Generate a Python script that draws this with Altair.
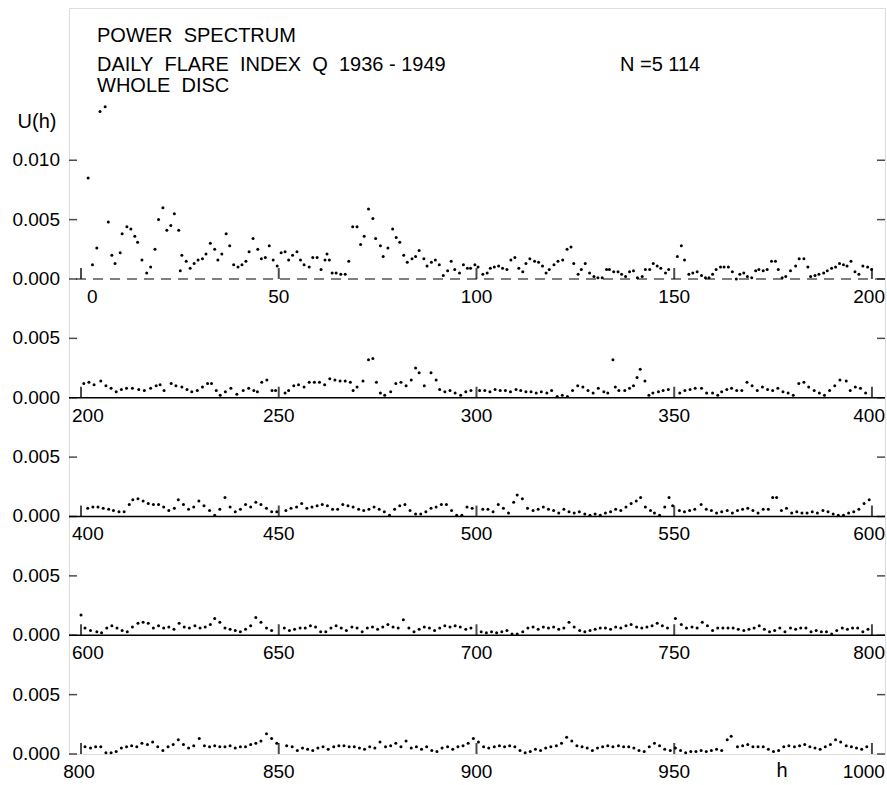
import altair as alt
import pandas as pd

# ---------------- data ----------------
row1_h = [1.8, 2.9, 4.0, 4.8, 6.1, 6.9, 7.8, 8.6, 9.9, 10.4,
          11.6, 12.6, 13.6, 14.3, 15.4, 16.6, 17.6, 18.7, 19.6, 20.7,
          21.7, 22.7, 23.6, 24.7, 25.1, 25.5, 26.6, 27.6, 28.6, 29.6,
          30.7, 31.6, 32.7, 33.8, 34.6, 35.6, 36.7, 37.6, 38.6, 39.7,
          40.7, 41.7, 42.5, 43.5, 44.7, 45.6, 46.6, 47.6, 48.6, 49.6,
          50.6, 51.6, 52.5, 53.5, 54.6, 55.5, 56.4, 57.7, 58.6, 59.7,
          60.7, 61.7, 62.2, 62.8, 63.5, 64.5, 65.7, 66.8, 67.7, 68.7,
          69.8, 70.7, 71.6, 72.7, 73.8, 74.5, 75.7, 76.4, 77.6, 78.8,
          79.7, 80.6, 81.6, 82.5, 83.7, 84.6, 85.5, 86.7, 87.5, 88.6,
          89.6, 90.6, 91.6, 92.7, 93.6, 94.5, 95.7, 96.7, 97.7, 98.5,
          99.6, 100.4, 101.6, 102.7, 103.5, 104.5, 105.6, 106.6, 107.7, 108.7,
          109.7, 110.7, 111.7, 112.5, 113.5, 114.7, 115.7, 116.7, 117.6, 118.4,
          119.6, 120.6, 121.8, 122.9, 123.9, 124.6, 125.7, 126.5, 127.5, 128.6,
          129.7, 130.7, 131.8, 132.9, 133.6, 134.7, 135.8, 136.7, 137.7, 138.7,
          139.7, 140.7, 141.9, 142.7, 143.8, 144.7, 145.7, 146.6, 147.8, 148.6,
          150.8, 151.8, 152.6, 153.7, 154.7, 155.8, 156.9, 157.9, 158.8, 159.7,
          160.6, 161.7, 162.6, 163.7, 164.7, 165.7, 166.6, 167.6, 168.5, 169.6,
          170.6, 171.4, 172.5, 173.5, 174.6, 175.6, 176.3, 177.3, 178.2, 179.4,
          180.7, 181.6, 182.8, 183.8, 184.5, 185.6, 186.6, 187.8, 188.7, 189.8,
          190.8, 191.8, 192.8, 193.7, 194.7, 195.7, 196.7, 197.7, 198.9, 199.9]
row1_u = [.0085, .0012, .0026, .0141, .0145, .0048, .0020, .0013, .0022, .0038,
          .0044, .0042, .0036, .0031, .0016, .0005, .0010, .0025, .0050, .0060,
          .0041, .0045, .0055, .0041, .0007, .0020, .0015, .0009, .0013, .0016,
          .0017, .0021, .0030, .0025, .0016, .0021, .0038, .0028, .0012, .0010,
          .0012, .0015, .0023, .0034, .0025, .0017, .0018, .0028, .0016, .0011,
          .0022, .0023, .0016, .0020, .0023, .0016, .0012, .0010, .0018, .0018,
          .0008, .0016, .0021, .0016, .0005, .0005, .0004, .0004, .0015, .0044,
          .0044, .0029, .0036, .0059, .0051, .0034, .0028, .0019, .0026, .0042,
          .0035, .0031, .0020, .0014, .0017, .0019, .0024, .0017, .0011, .0014,
          .0016, .0012, .0003, .0007, .0015, .0008, .0005, .0012, .0009, .0009,
          .0012, .0010, .0004, .0005, .0009, .0010, .0011, .0009, .0008, .0016,
          .0018, .0009, .0006, .0013, .0017, .0015, .0014, .0011, .0005, .0008,
          .0012, .0015, .0016, .0025, .0027, .0013, .0004, .0008, .0013, .0005,
          .0002, .0001, .0001, .0008, .0008, .0006, .0006, .0004, .0002, .0006,
          .0007, .0001, .0002, .0008, .0008, .0013, .0011, .0009, .0005, .0008,
          .0019, .0028, .0016, .0004, .0005, .0006, .0003, .0001, .0001, .0004,
          .0008, .0010, .0010, .0010, .0006, .0000, .0004, .0005, .0002, .0001,
          .0007, .0008, .0007, .0008, .0015, .0015, .0008, .0001, .0002, .0007,
          .0011, .0017, .0017, .0010, .0002, .0003, .0004, .0005, .0007, .0009,
          .0010, .0013, .0012, .0011, .0015, .0006, .0004, .0011, .0010, .0008]

row2_h = [200.7, 202, 203.3, 205, 206.3, 207.6, 208.9, 210.2, 211.5, 213,
          214.6, 216, 217.6, 219, 220, 221, 222.8, 224, 225.5, 226.8,
          228, 229.4, 230.7, 232, 233, 234.2, 235.2, 236.5, 237.9, 239.4,
          241, 242.4, 243.7, 244.6, 245.7, 247, 248.3, 249.2, 251.6, 252.5,
          253.8, 255, 256.4, 257.7, 259, 260.3, 261.6, 262.9, 264.2, 265.5,
          266.8, 268.1, 268.8, 269.8, 271.3, 272.7, 273.8, 274.7, 275.7, 276.8,
          278.3, 279.6, 280.9, 282.2, 283.5, 284.6, 285.5, 286.8, 288.5, 289.8,
          290.7, 292, 293.3, 294.6, 296, 297.3, 298.6, 300.8, 302.1, 303.4,
          304.7, 306, 307.3, 308.6, 310, 311.2, 312.5, 313.8, 315.1, 316.4,
          317.8, 319, 320.4, 321.7, 323, 324.3, 325.6, 326.9, 328.2, 329.5,
          330.8, 332.2, 333.2, 334.5, 335.1, 336, 337.5, 338.7, 339.7, 340.6,
          341.4, 342.6, 343.6, 344.6, 346, 347.2, 348.5, 351.4, 352.7, 354,
          355.3, 356.9, 358.2, 359.7, 361, 362, 363.3, 364.5, 365.8, 367.1,
          368.4, 369.7, 371, 372.3, 373.6, 374.9, 376.2, 377.5, 378.8, 380.1,
          381.5, 382.8, 384, 385.4, 386.7, 388, 389.3, 390.6, 391.9, 393.5,
          394.5, 395.8, 397.1, 398.4]
row2_u = [.0012, .0013, .0011, .0014, .0010, .0008, .0005, .0007, .0008, .0008,
          .0007, .0006, .0008, .0010, .0011, .0006, .0012, .0010, .0009, .0007,
          .0005, .0006, .0009, .0012, .0012, .0006, .0002, .0005, .0008, .0003,
          .0006, .0008, .0006, .0005, .0013, .0015, .0006, .0006, .0004, .0006,
          .0010, .0011, .0009, .0013, .0013, .0013, .0011, .0016, .0015, .0014,
          .0014, .0013, .0006, .0009, .0014, .0032, .0033, .0013, .0004, .0002,
          .0005, .0012, .0013, .0010, .0015, .0025, .0021, .0010, .0021, .0015,
          .0007, .0005, .0006, .0004, .0002, .0005, .0006, .0006, .0006, .0005,
          .0007, .0006, .0006, .0005, .0007, .0006, .0005, .0005, .0004, .0005,
          .0004, .0006, .0001, .0002, .0001, .0006, .0010, .0009, .0006, .0004,
          .0008, .0005, .0004, .0032, .0009, .0006, .0006, .0008, .0010, .0017,
          .0024, .0014, .0002, .0004, .0005, .0006, .0007, .0004, .0006, .0007,
          .0008, .0008, .0004, .0004, .0002, .0005, .0007, .0008, .0006, .0006,
          .0013, .0010, .0006, .0009, .0007, .0006, .0008, .0005, .0004, .0002,
          .0012, .0013, .0009, .0006, .0004, .0002, .0006, .0010, .0015, .0014,
          .0006, .0009, .0008, .0004]

row3_h = [401.7, 403, 404.3, 405.6, 407, 408.2, 409.6, 410.9, 412.2, 413.1,
          414.4, 415.7, 417, 418.3, 419.6, 420.9, 422.2, 423.6, 424.6, 425.9,
          427.2, 428.5, 429.8, 431.1, 432.5, 433.8, 435.1, 436.4, 437.7, 439,
          440.3, 441.6, 442.9, 444.2, 445.5, 446.9, 448.2, 449.5, 451.8, 453.1,
          454.5, 455.8, 457.1, 458.4, 459.7, 461, 462.3, 463.6, 464.9, 466.2,
          467.5, 468.8, 470.2, 471.5, 472.8, 474.1, 475.4, 476.7, 478, 479.3,
          480.6, 481.9, 483.2, 484.6, 485.9, 487.2, 488.5, 489.8, 491.1, 492.4,
          493.7, 495, 496.3, 497.6, 498.9, 501.6, 502.9, 504.2, 505.5, 506.8,
          508.1, 509.4, 510.3, 511.6, 512.9, 514.3, 515.6, 516.9, 518.2, 519.5,
          520.8, 522.1, 523.4, 524.7, 526, 527.4, 528.7, 530, 531.3, 532.6,
          533.9, 535.2, 536.5, 537.8, 539.1, 540.4, 541.5, 542.7, 544, 545,
          546.3, 547.6, 548.7, 549.6, 551.3, 552.6, 553.9, 555.2, 556.8, 558.1,
          559.4, 560.7, 562, 563.4, 564.7, 566, 567.3, 568.6, 569.9, 571.2,
          572.5, 573.8, 574.9, 575.9, 577.1, 578.4, 579.7, 581, 582.3, 583.6,
          584.9, 586.2, 587.6, 588.9, 590.2, 591.5, 592.8, 594.1, 595.4, 596.7,
          598, 599.3]
row3_u = [.0007, .0008, .0008, .0007, .0006, .0005, .0004, .0004, .0010, .0014,
          .0015, .0013, .0011, .0010, .0010, .0008, .0005, .0007, .0014, .0010,
          .0006, .0008, .0013, .0009, .0005, .0001, .0006, .0016, .0008, .0004,
          .0006, .0010, .0008, .0012, .0010, .0007, .0004, .0004, .0005, .0007,
          .0008, .0011, .0007, .0008, .0009, .0010, .0009, .0006, .0006, .0010,
          .0009, .0008, .0006, .0005, .0006, .0008, .0006, .0004, .0001, .0006,
          .0009, .0010, .0005, .0002, .0002, .0004, .0007, .0008, .0010, .0010,
          .0005, .0001, .0001, .0008, .0007, .0006, .0006, .0004, .0010, .0007,
          .0003, .0012, .0018, .0015, .0007, .0005, .0006, .0008, .0006, .0005,
          .0003, .0006, .0004, .0003, .0004, .0002, .0001, .0002, .0001, .0003,
          .0004, .0006, .0005, .0008, .0011, .0013, .0016, .0008, .0005, .0003,
          .0001, .0008, .0016, .0009, .0005, .0004, .0005, .0006, .0010, .0006,
          .0005, .0003, .0004, .0005, .0003, .0005, .0006, .0007, .0005, .0003,
          .0006, .0006, .0016, .0016, .0005, .0007, .0003, .0004, .0003, .0003,
          .0004, .0003, .0005, .0004, .0002, .0001, .0001, .0003, .0004, .0006,
          .0011, .0014]

row4_h = [600, 601, 602.4, 604, 605.2, 606.5, 607.8, 609.1, 610.4, 611.7,
          613, 614.4, 615.7, 617, 618.3, 619.6, 620.9, 622.2, 623.5, 624.8,
          626.1, 627.4, 628.8, 630.1, 631.4, 632.7, 633.8, 635.1, 636.4, 637.7,
          639, 640.3, 641.6, 642.9, 644.2, 645.5, 646.9, 648.2, 651.4, 652.7,
          654, 655.4, 656.7, 658, 659.3, 660.6, 661.9, 663.2, 664.5, 665.8,
          667.1, 668.5, 669.8, 671.1, 672.4, 673.7, 675, 676.3, 677.6, 678.9,
          680.2, 681.5, 682.9, 684.2, 685.5, 686.8, 688.1, 689.4, 690.7, 692,
          693.3, 694.6, 695.9, 697.3, 698.6, 701.2, 702.5, 703.8, 705.1, 706.4,
          707.7, 709, 710.3, 711.7, 713, 714.3, 715.6, 716.9, 718.2, 719.5,
          720.8, 722.1, 723.4, 724.7, 726.1, 727.4, 728.7, 730, 731.3, 732.6,
          733.9, 735.2, 736.5, 737.8, 739.1, 740.5, 741.8, 743.1, 744.4, 745.7,
          747, 748.3, 750.3, 751.8, 753.1, 754.5, 755.8, 757.1, 758.4, 759.7,
          761, 762.3, 763.6, 764.9, 766.2, 767.6, 768.9, 770.2, 771.5, 772.8,
          774.1, 775.4, 776.7, 778, 779.4, 780.7, 782, 783.3, 784.6, 785.9,
          787.2, 788.5, 789.8, 791.1, 792.5, 793.8, 795.1, 796.4, 797.7, 799]
row4_u = [.0017, .0006, .0004, .0003, .0002, .0006, .0008, .0006, .0004, .0003,
          .0007, .0010, .0011, .0010, .0006, .0008, .0006, .0007, .0005, .0010,
          .0007, .0006, .0008, .0006, .0007, .0009, .0014, .0011, .0006, .0005,
          .0004, .0003, .0005, .0008, .0015, .0011, .0006, .0004, .0006, .0004,
          .0005, .0006, .0006, .0008, .0007, .0003, .0003, .0006, .0008, .0006,
          .0004, .0007, .0006, .0003, .0006, .0007, .0005, .0007, .0009, .0007,
          .0006, .0013, .0006, .0003, .0005, .0007, .0006, .0004, .0006, .0008,
          .0007, .0008, .0007, .0005, .0006, .0003, .0002, .0003, .0002, .0003,
          .0004, .0001, .0001, .0003, .0006, .0007, .0005, .0007, .0006, .0007,
          .0005, .0006, .0011, .0007, .0004, .0003, .0004, .0005, .0006, .0006,
          .0005, .0007, .0006, .0008, .0009, .0007, .0006, .0007, .0008, .0010,
          .0008, .0006, .0014, .0009, .0006, .0007, .0006, .0011, .0008, .0004,
          .0006, .0006, .0006, .0006, .0005, .0004, .0005, .0006, .0008, .0005,
          .0003, .0004, .0006, .0003, .0006, .0005, .0006, .0006, .0003, .0004,
          .0003, .0003, .0001, .0004, .0006, .0005, .0006, .0006, .0003, .0005]

row5_h = [801, 802.4, 803.7, 805, 806.3, 807.6, 808.9, 810.2, 811.5, 812.8,
          814.1, 815.4, 816.8, 818.1, 819.4, 820.7, 822, 823.3, 824.6, 825.9,
          827.2, 828.5, 829.9, 831.2, 832.5, 833.8, 835.1, 836.4, 837.7, 839,
          840.3, 841.6, 842.9, 844.2, 845.5, 846.9, 848.2, 849.5, 852, 853.4,
          854.7, 856, 857.3, 858.6, 859.9, 861.2, 862.5, 863.9, 865.2, 866.5,
          867.8, 869.1, 870.4, 871.7, 873, 874.3, 875.6, 877, 878.3, 879.6,
          880.9, 882.2, 883.5, 884.8, 886.1, 887.4, 888.7, 890, 891.3, 892.7,
          894, 895.3, 896.6, 897.9, 899.2, 900.5, 901.8, 903.1, 904.5, 905.8,
          907.1, 908.4, 909.7, 911, 912.3, 913.6, 914.9, 916.2, 917.5, 918.8,
          920.2, 921.5, 922.8, 924.1, 925.4, 926.7, 928, 929.3, 930.6, 931.9,
          933.2, 934.5, 935.9, 937.2, 938.5, 939.8, 941.1, 942.4, 943.7, 945,
          946.3, 947.6, 949, 950.3, 951.6, 952.9, 954.2, 955.5, 956.8, 958.1,
          959.4, 960.7, 962, 963.4, 964.4, 966, 967.3, 968.6, 969.9, 971.2,
          972.5, 973.8, 975.1, 976.4, 977.7, 979, 980.4, 981.7, 983, 984.3,
          985.6, 986.9, 988.2, 989.5, 990.8, 992.1, 993.5, 994.8, 996.1, 997.4,
          998.7]
row5_u = [.0006, .0005, .0006, .0006, .0001, .0001, .0002, .0005, .0006, .0007,
          .0006, .0009, .0008, .0010, .0006, .0003, .0006, .0008, .0012, .0008,
          .0005, .0007, .0013, .0007, .0006, .0007, .0006, .0006, .0007, .0005,
          .0006, .0006, .0008, .0009, .0011, .0017, .0013, .0009, .0007, .0006,
          .0003, .0005, .0004, .0003, .0005, .0006, .0004, .0006, .0007, .0007,
          .0006, .0006, .0005, .0004, .0006, .0005, .0010, .0006, .0007, .0009,
          .0006, .0011, .0005, .0006, .0004, .0006, .0003, .0002, .0005, .0006,
          .0004, .0006, .0007, .0009, .0013, .0010, .0006, .0005, .0006, .0007,
          .0006, .0007, .0006, .0003, .0001, .0002, .0004, .0003, .0005, .0006,
          .0007, .0009, .0014, .0011, .0007, .0006, .0005, .0003, .0005, .0006,
          .0007, .0006, .0007, .0006, .0006, .0005, .0003, .0002, .0006, .0009,
          .0007, .0004, .0003, .0005, .0003, .0001, .0002, .0002, .0003, .0002,
          .0003, .0004, .0003, .0012, .0015, .0006, .0007, .0008, .0006, .0006,
          .0006, .0004, .0002, .0003, .0006, .0007, .0006, .0007, .0008, .0006,
          .0005, .0004, .0006, .0008, .0012, .0010, .0007, .0006, .0005, .0004,
          .0006]

row_starts = [0, 200, 400, 600, 800]          # first h of each strip
tick_steps = [0, 50, 100, 150, 200]           # tick positions within a strip
ytick_values = [0.010, 0.005, 0.000, -0.005, -0.010, -0.015, -0.020,
                -0.025, -0.030, -0.035, -0.040]
ytick_labels = ["0.010", "0.005", "0.000", "0.005", "0.000", "0.005", "0.000",
                "0.005", "0.000", "0.005", "0.000"]
title_lines = ["POWER\u00a0\u00a0SPECTRUM",
               "DAILY\u00a0\u00a0FLARE\u00a0\u00a0INDEX\u00a0\u00a0Q\u00a0\u00a01936 - 1949",
               "WHOLE\u00a0\u00a0DISC"]
n_label = "N =5 114"
x_title = "h"
y_title = "U(h)"

# ---------------- tables ----------------
points = pd.DataFrame({
    "h": row1_h + row2_h + row3_h + row4_h + row5_h,
    "U": row1_u + row2_u + row3_u + row4_u + row5_u,
})
labels = pd.DataFrame([
    {"row": r, "step": t, "label": str(s + t)}
    for r, s in enumerate(row_starts) for t in tick_steps
])
baselines = pd.DataFrame({"row": list(range(len(row_starts) - 1))})
yticks = pd.DataFrame({"yy": ytick_values, "label": ytick_labels})

FONT = "Liberation Sans"
xs = alt.Scale(domain=[-3.04, 203.3], nice=False, zero=False)
ys = alt.Scale(domain=[-0.040, 0.02282], nice=False, zero=False)
X = lambda f: alt.X(f, scale=xs, axis=None)
Y = lambda f: alt.Y(f, scale=ys, axis=None)

dots = alt.Chart(points).transform_calculate(
    row="min(floor(datum.h / 200), 4)"
).transform_calculate(
    hx="datum.h - 200 * datum.row", yy="datum.U - 0.01 * datum.row"
).mark_circle(size=9, color="black", opacity=1).encode(x=X("hx:Q"), y=Y("yy:Q"))

def strip(chart):
    return chart.transform_calculate(yy="-0.01 * datum.row", hx="datum.step")

base_first = alt.Chart(baselines).transform_filter("datum.row == 0").transform_calculate(
    yy="-0.01 * datum.row"
).mark_rule(color="black", strokeWidth=1.2, strokeDash=[10, 7]).encode(y=Y("yy:Q"))
base_rest = alt.Chart(baselines).transform_filter("datum.row > 0").transform_calculate(
    yy="-0.01 * datum.row"
).mark_rule(color="black", strokeWidth=1.5).encode(y=Y("yy:Q"))

xticks = strip(alt.Chart(labels)).mark_tick(
    orient="vertical", size=11, thickness=2, yOffset=-5.5, color="black"
).encode(x=X("hx:Q"), y=Y("yy:Q"))

ytick_left = alt.Chart(yticks).mark_tick(
    orient="horizontal", size=8, thickness=1.5, color="black"
).encode(x=alt.value(4), y=Y("yy:Q"))
ytick_right = alt.Chart(yticks).mark_tick(
    orient="horizontal", size=8, thickness=1.5, color="black"
).encode(x=alt.value(812), y=Y("yy:Q"))
ylabels = alt.Chart(yticks).mark_text(
    align="right", baseline="middle", dx=-9, fontSize=19, font=FONT, color="black"
).encode(x=alt.value(0), y=Y("yy:Q"), text="label:N")

def lab(filt, align, dx):
    return strip(alt.Chart(labels)).transform_filter(filt).mark_text(
        align=align, baseline="top", dx=dx, dy=9, fontSize=19, font=FONT, color="black"
    ).encode(x=X("hx:Q"), y=Y("yy:Q"), text="label:N")

lab_mid = lab("datum.step > 0 && datum.step < 200", "center", 0)
lab_end = lab("datum.step == 200", "right", 13)
lab_start_mid = lab("datum.step == 0 && datum.row > 0 && datum.row < 4", "left", -9)
lab_start_first = lab("datum.step == 0 && datum.row == 0", "left", 6)
lab_start_last = lab("datum.step == 0 && datum.row == 4", "center", -2)

def note(txt, x, y, size=20, align="left"):
    return alt.Chart(pd.DataFrame({"t": [txt]})).mark_text(
        align=align, baseline="alphabetic", fontSize=size, font=FONT, color="black"
    ).encode(x=alt.value(x), y=alt.value(y), text="t:N")

t1 = note(title_lines[0], 28, 34)
t2 = note(title_lines[1], 28, 63)
t3 = note(title_lines[2], 28, 84)
tn = note(n_label, 551, 63)
th = note(x_title, 713, 769, 20, "center")
tu = note(y_title, -32, 120, 20, "center")

chart = alt.layer(
    base_first, base_rest, xticks, ytick_left, ytick_right, dots, ylabels,
    lab_mid, lab_end, lab_start_mid, lab_start_first, lab_start_last,
    t1, t2, t3, tn, th, tu,
).properties(
    width=816, height=746,
    autosize=alt.AutoSizeParams(type="none"),
    padding={"left": 69, "top": 8, "right": 2, "bottom": 31},
).configure_view(stroke="black", strokeWidth=1.5).configure(background="white")

chart.save("out.html", embed_options={"renderer": "svg", "actions": False})
